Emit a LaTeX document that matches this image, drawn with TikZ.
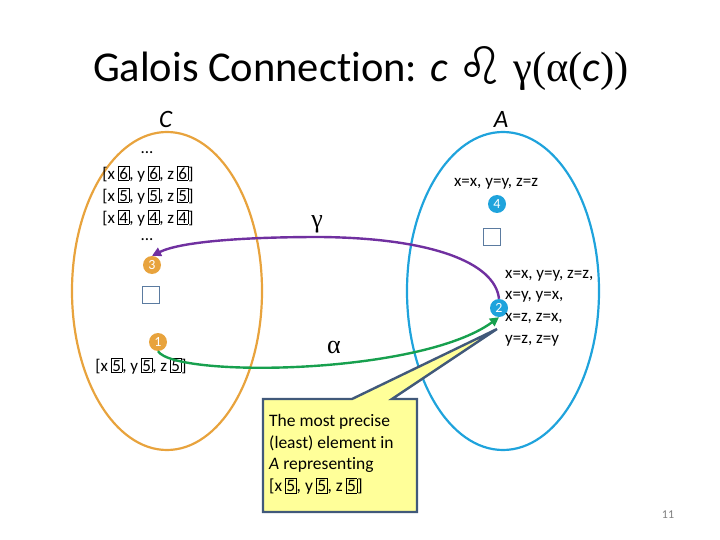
\documentclass[tikz,border=0pt]{standalone}
\usepackage{fontspec}
\setmainfont{Carlito}[Ligatures=NoCommon]
\newfontfamily\grk{Liberation Serif}
\newfontfamily\djv{DejaVu Sans}
\usetikzlibrary{arrows.meta}
\definecolor{corange}{HTML}{E8A33D}
\definecolor{cblue}{HTML}{1FA3DC}
\definecolor{cpurple}{HTML}{7030A0}
\definecolor{cgreen}{HTML}{17A04E}
\definecolor{csq}{HTML}{5B7BA0}
\definecolor{cbord}{HTML}{41597A}
\definecolor{cyel}{HTML}{FFFF99}
\newcommand\bxd[1]{{\fboxsep=0.8pt\fboxrule=0.6pt\fbox{\raisebox{0pt}[0.68em][0pt]{#1}}}}
\newcommand\stt[1]{[x\,\bxd{#1}, y\,\bxd{#1}, z\,\bxd{#1}]}
\begin{document}
\begin{tikzpicture}[x=1pt,y=-1pt,
  elli/.style={line width=2.2pt},
  numc/.style={circle,inner sep=0pt,minimum size=18pt,text=white,font=\fontsize{14}{14}\selectfont},
  sq/.style={draw=csq,line width=1.3pt,minimum size=17pt,inner sep=0pt},
  txt/.style={font=\fontsize{17}{19}\selectfont,inner sep=0pt},
  arr/.style={line width=2.4pt,-{Triangle[length=9pt,width=9pt]}}]
\useasboundingbox (0,0) rectangle (720,540);
\node[inner sep=0pt,anchor=base] (title) at (361,82) {\fontsize{42.5}{46}\selectfont Galois Connection: \textit{c} {\djv\fontsize{52}{56}\selectfont\raisebox{-3pt}{♌}} {\grk γ(α(}\textit{c}{\grk ))}};
\node[inner sep=0pt,anchor=base] (lc) at (166,128) {\fontsize{25}{25}\selectfont\textit{C}};
\node[inner sep=0pt,anchor=base] (la) at (501,128) {\fontsize{25}{25}\selectfont\textit{A}};
\draw[elli,corange] (167,291) ellipse [x radius=95, y radius=159];
\draw[elli,cblue] (503,291) ellipse [x radius=96, y radius=159];
% C contents
\node[txt] (d1) at (147,153) {...};
\node[txt] (s6) at (148,174) {\stt{6}};
\node[txt] (s5) at (148,196) {\stt{5}};
\node[txt] (s4) at (148,218) {\stt{4}};
\node[txt] (d2) at (147,240) {...};
\node[numc,fill=corange] (n3) at (152,265) {3};
\node[sq] (sqc) at (151,295) {};
\node[numc,fill=corange] (n1) at (158,342) {1};
\node[txt] (s5b) at (141,366) {\stt{5}};
% A contents
\node[txt] (top) at (496,184) {x=x, y=y, z=z};
\node[numc,fill=cblue] (n4) at (497,204) {4};
\node[sq] (sqa) at (492,237) {};
\node[numc,fill=cblue] (n2) at (499,308) {2};
\node[txt,anchor=west,align=left,font=\fontsize{17}{21.7}\selectfont] (rels) at (505,308) {x=x, y=y, z=z,\\x=y, y=x,\\x=z, z=x,\\y=z, z=y};
% arrows
\draw[arr,cpurple] (n2.north) .. controls (495,262) and (430,238) .. (320,237) .. controls (240,237) and (180,242) .. (n3.north);
\draw[arr,cgreen] (n1.south) .. controls (175,378) and (420,375) .. (n2.south);
\node[inner sep=0pt] (gam) at (317,224) {\grk\fontsize{26}{26}\selectfont γ};
\node[inner sep=0pt] (alp) at (334,347) {\grk\fontsize{26}{26}\selectfont α};
% callout
\coordinate (tip) at (497,329);
\draw[cbord,line width=2.4pt,fill=cyel,line join=miter] (263,399) -- (352,399) -- (tip) -- (392,399) -- (417,399) -- (417,512) -- (263,512) -- cycle;
\node[anchor=north west,align=left,inner sep=0pt,font=\fontsize{17.5}{21.8}\selectfont] (call) at (269,414) {The most precise\\(least) element in\\\textit{A} representing\\\stt{5}};
\node[inner sep=0pt,text=gray,font=\fontsize{12}{12}\selectfont] (pg) at (668,515) {11};
\end{tikzpicture}
\end{document}
